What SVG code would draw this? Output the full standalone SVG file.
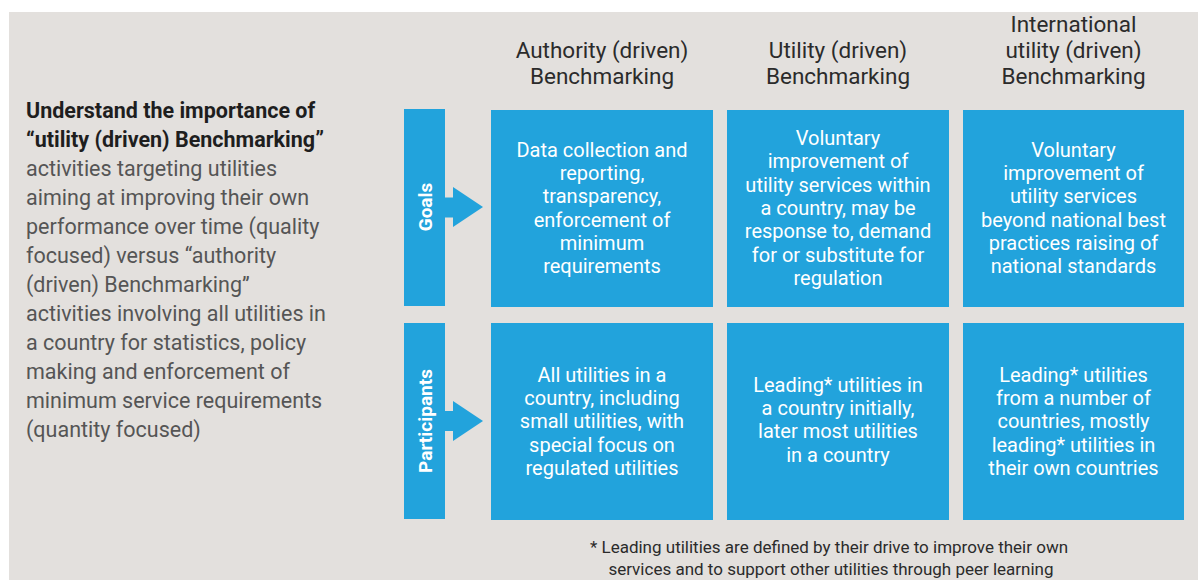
<svg xmlns="http://www.w3.org/2000/svg" width="1198" height="580" viewBox="0 0 1198 580">
<style>
.bg{fill:#e3e0dd}
.box{fill:#22a3dc}
.bt{font-family:Roboto,"Liberation Sans",sans-serif;font-size:20px;fill:#ffffff;text-anchor:middle}
.hd{font-family:Roboto,"Liberation Sans",sans-serif;font-size:22.5px;fill:#2b2b2b;text-anchor:middle}
.lt{font-family:Roboto,"Liberation Sans",sans-serif;font-size:21.5px;fill:#555555}
.lb{font-family:Roboto,"Liberation Sans",sans-serif;font-size:21.5px;fill:#1e1e1e;font-weight:bold}
.rl{font-family:Roboto,"Liberation Sans",sans-serif;font-size:19px;fill:#ffffff;font-weight:bold;text-anchor:middle}
.fn{font-family:Roboto,"Liberation Sans",sans-serif;font-size:17px;fill:#2b2b2b;text-anchor:middle}
</style>
<rect x="0" y="0" width="1198" height="580" fill="#ffffff"/>
<rect class="bg" x="9" y="12" width="1189" height="568"/>

<g id="intro">
<text class="lb" x="26" y="118">Understand the importance of</text>
<text class="lb" x="26" y="147">“utility (driven) Benchmarking”</text>
<text class="lt" x="26" y="176">activities targeting utilities</text>
<text class="lt" x="26" y="205">aiming at improving their own</text>
<text class="lt" x="26" y="234">performance over time (quality</text>
<text class="lt" x="26" y="263">focused) versus “authority</text>
<text class="lt" x="26" y="292">(driven) Benchmarking”</text>
<text class="lt" x="26" y="321">activities involving all utilities in</text>
<text class="lt" x="26" y="350">a country for statistics, policy</text>
<text class="lt" x="26" y="379">making and enforcement of</text>
<text class="lt" x="26" y="408">minimum service requirements</text>
<text class="lt" x="26" y="437">(quantity focused)</text>
</g>

<g id="header-authority">
<text class="hd" x="602" y="58">Authority (driven)</text>
<text class="hd" x="602" y="84">Benchmarking</text>
</g>
<g id="header-utility">
<text class="hd" x="838" y="58">Utility (driven)</text>
<text class="hd" x="838" y="84">Benchmarking</text>
</g>
<g id="header-international">
<text class="hd" x="1073.5" y="32">International</text>
<text class="hd" x="1073.5" y="58">utility (driven)</text>
<text class="hd" x="1073.5" y="84">Benchmarking</text>
</g>

<g id="row-goals">
<rect class="box" x="404" y="109" width="41" height="197"/>
<text class="rl" transform="translate(431.5 207) rotate(-90)">Goals</text>
</g>
<g id="row-participants">
<rect class="box" x="404" y="323" width="41" height="196"/>
<text class="rl" transform="translate(431.5 421) rotate(-90)">Participants</text>
</g>

<g id="connectors">
<polygon class="box" points="444,197.5 453,197.5 453,187 483,207 453,227 453,217.5 444,217.5"/>
<polygon class="box" points="444,411 453,411 453,401 483,421 453,441 453,431 444,431"/>
</g>

<g id="goals-authority">
<rect class="box" x="491" y="110" width="222" height="197"/>
<text class="bt" x="602" y="156.7">Data collection and</text>
<text class="bt" x="602" y="180">reporting,</text>
<text class="bt" x="602" y="203.3">transparency,</text>
<text class="bt" x="602" y="226.6">enforcement of</text>
<text class="bt" x="602" y="250">minimum</text>
<text class="bt" x="602" y="273.3">requirements</text>
</g>
<g id="goals-utility">
<rect class="box" x="727" y="110" width="222" height="197"/>
<text class="bt" x="838" y="145">Voluntary</text>
<text class="bt" x="838" y="168.3">improvement of</text>
<text class="bt" x="838" y="191.6">utility services within</text>
<text class="bt" x="838" y="215">a country, may be</text>
<text class="bt" x="838" y="238.3">response to, demand</text>
<text class="bt" x="838" y="261.6">for or substitute for</text>
<text class="bt" x="838" y="285">regulation</text>
</g>
<g id="goals-international">
<rect class="box" x="963" y="110" width="221" height="197"/>
<text class="bt" x="1073.5" y="156.7">Voluntary</text>
<text class="bt" x="1073.5" y="180">improvement of</text>
<text class="bt" x="1073.5" y="203.3">utility services</text>
<text class="bt" x="1073.5" y="226.6">beyond national best</text>
<text class="bt" x="1073.5" y="250">practices raising of</text>
<text class="bt" x="1073.5" y="273.3">national standards</text>
</g>

<g id="participants-authority">
<rect class="box" x="491" y="323" width="222" height="197"/>
<text class="bt" x="602" y="381.7">All utilities in a</text>
<text class="bt" x="602" y="405">country, including</text>
<text class="bt" x="602" y="428.3">small utilities, with</text>
<text class="bt" x="602" y="451.6">special focus on</text>
<text class="bt" x="602" y="475">regulated utilities</text>
</g>
<g id="participants-utility">
<rect class="box" x="727" y="323" width="222" height="197"/>
<text class="bt" x="838" y="391.7">Leading* utilities in</text>
<text class="bt" x="838" y="415">a country initially,</text>
<text class="bt" x="838" y="438.3">later most utilities</text>
<text class="bt" x="838" y="461.6">in a country</text>
</g>
<g id="participants-international">
<rect class="box" x="963" y="323" width="221" height="197"/>
<text class="bt" x="1073.5" y="381.7">Leading* utilities</text>
<text class="bt" x="1073.5" y="405">from a number of</text>
<text class="bt" x="1073.5" y="428.3">countries, mostly</text>
<text class="bt" x="1073.5" y="451.6">leading* utilities in</text>
<text class="bt" x="1073.5" y="475">their own countries</text>
</g>

<g id="footnote">
<text class="fn" x="829" y="553">* Leading utilities are defined by their drive to improve their own</text>
<text class="fn" x="831" y="575">services and to support other utilities through peer learning</text>
</g>
</svg>
